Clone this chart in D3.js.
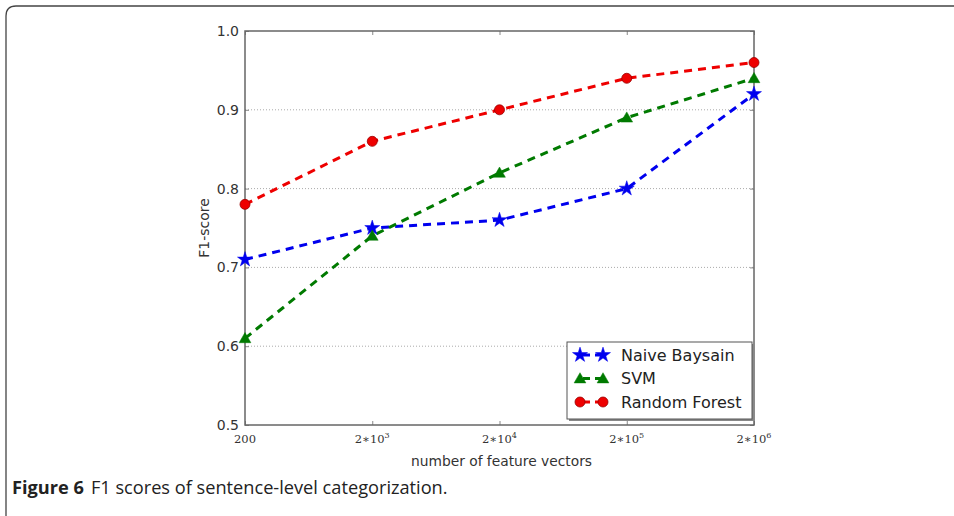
<!DOCTYPE html>
<html>
<head>
<meta charset="utf-8">
<script src="https://cdn.jsdelivr.net/npm/d3@7"></script>
<style>
  body { margin: 0; background: #fff; }
  svg { display: block; }
</style>
</head>
<body>
<script>
// data
const categories = ["200", "2e3", "2e4", "2e5", "2e6"];
const tickExp = [null, "3", "4", "5", "6"];
const naiveBayes = [0.71, 0.75, 0.76, 0.80, 0.92];
const svm = [0.61, 0.74, 0.82, 0.89, 0.94];
const randomForest = [0.78, 0.86, 0.90, 0.94, 0.96];
const yTicks = [0.5, 0.6, 0.7, 0.8, 0.9, 1.0];
const gridTicks = [0.6, 0.7, 0.8, 0.9];

const series = [
    { name: "Naive Baysain", values: naiveBayes, color: "#0000ee", marker: "star" },
    { name: "SVM", values: svm, color: "#007a00", marker: "triangle" },
    { name: "Random Forest", values: randomForest, color: "#ee0000", marker: "circle" }
];

const width = 954, height = 516;
const margin = { top: 31, right: 200, bottom: 91, left: 245 };

const svg = d3.select("body").append("svg")
    .attr("width", width)
    .attr("height", height);

// outer figure frame (open on right and bottom)
svg.append("path")
    .attr("d", "M6,516 L6,16 Q6,6 16,6 L954,6")
    .attr("fill", "none")
    .attr("stroke", "#444")
    .attr("stroke-width", 1.3);

const x = d3.scalePoint()
    .domain(categories)
    .range([margin.left, width - margin.right]);

const y = d3.scaleLinear()
    .domain([0.5, 1.0])
    .range([height - margin.bottom, margin.top]);

// grid lines
svg.append("g")
    .selectAll("line")
    .data(gridTicks)
    .enter().append("line")
    .attr("x1", margin.left)
    .attr("x2", width - margin.right)
    .attr("y1", d => y(d))
    .attr("y2", d => y(d))
    .attr("stroke", "#aaa")
    .attr("stroke-width", 1)
    .attr("stroke-dasharray", "1,2");

// y axis labels + inner ticks
const yAxis = d3.axisLeft(y)
    .tickValues(yTicks)
    .tickFormat(d3.format(".1f"))
    .tickSize(-4)
    .tickPadding(6);

svg.append("g")
    .attr("transform", `translate(${margin.left},0)`)
    .call(yAxis)
    .call(g => g.select(".domain").remove())
    .call(g => g.selectAll("line").attr("stroke", "#888"))
    .call(g => g.selectAll("text")
        .attr("font-family", "DejaVu Sans, sans-serif")
        .attr("font-size", 14)
        .attr("fill", "#333"));

// right-side ticks
svg.append("g")
    .attr("transform", `translate(${width - margin.right},0)`)
    .call(d3.axisRight(y).tickValues(yTicks).tickSize(-4).tickFormat(""))
    .call(g => g.select(".domain").remove())
    .call(g => g.selectAll("line").attr("stroke", "#888"));

// x axis with inner ticks
const xAxis = d3.axisBottom(x).tickSize(-4).tickFormat("");
svg.append("g")
    .attr("transform", `translate(0,${height - margin.bottom})`)
    .call(xAxis)
    .call(g => g.select(".domain").remove())
    .call(g => g.selectAll("line").attr("stroke", "#888"));

svg.append("g")
    .attr("transform", `translate(0,${margin.top})`)
    .call(d3.axisTop(x).tickSize(-4).tickFormat(""))
    .call(g => g.select(".domain").remove())
    .call(g => g.selectAll("line").attr("stroke", "#888"));

// x tick labels: 200, 2*10^n
const xLabels = svg.append("g")
    .attr("font-family", "DejaVu Serif, serif")
    .attr("font-size", 11.5)
    .attr("fill", "#333");

categories.forEach((c, i) => {
    const t = xLabels.append("text")
        .attr("x", x(c))
        .attr("y", height - margin.bottom + 18)
        .attr("text-anchor", "middle");
    if (tickExp[i] == null) {
        t.text(c);
    } else {
        t.append("tspan").text("2\u221710");
        t.append("tspan").attr("dy", -5).attr("font-size", 8).text(tickExp[i]);
    }
});

// plot frame
svg.append("rect")
    .attr("x", margin.left)
    .attr("y", margin.top)
    .attr("width", width - margin.right - margin.left)
    .attr("height", height - margin.bottom - margin.top)
    .attr("fill", "none")
    .attr("stroke", "#666")
    .attr("stroke-width", 1.5);

// axis titles
svg.append("text")
    .attr("x", (margin.left + width - margin.right) / 2 + 2)
    .attr("y", 466)
    .attr("text-anchor", "middle")
    .attr("font-family", "DejaVu Sans, sans-serif")
    .attr("font-size", 13.8)
    .attr("fill", "#333")
    .text("number of feature vectors");

svg.append("text")
    .attr("transform", `translate(209,${(margin.top + height - margin.bottom) / 2}) rotate(-90)`)
    .attr("text-anchor", "middle")
    .attr("font-family", "DejaVu Sans, sans-serif")
    .attr("font-size", 14)
    .attr("fill", "#333")
    .text("F1-score");

// marker helper
function drawMarker(g, kind, cx, cy, color) {
    if (kind === "circle") {
        g.append("circle").attr("cx", cx).attr("cy", cy).attr("r", 5)
            .attr("fill", color).attr("stroke", "#990000").attr("stroke-width", 0.8);
    } else {
        const sym = kind === "star" ? d3.symbolStar : d3.symbolTriangle;
        const size = kind === "star" ? 70 : 60;
        g.append("path")
            .attr("d", d3.symbol().type(sym).size(size)())
            .attr("transform", `translate(${cx},${cy + (kind === "triangle" ? 1 : 0)})`)
            .attr("fill", color)
            .attr("stroke", color)
            .attr("stroke-width", 0.5);
    }
}

const line = d3.line()
    .x((d, i) => x(categories[i]))
    .y(d => y(d));

const plot = svg.append("g");
series.forEach(s => {
    plot.append("path")
        .datum(s.values)
        .attr("d", line)
        .attr("fill", "none")
        .attr("stroke", s.color)
        .attr("stroke-width", 3)
        .attr("stroke-dasharray", "8,6");
});
series.forEach(s => {
    s.values.forEach((v, i) => drawMarker(plot, s.marker, x(categories[i]), y(v), s.color));
});

// legend
const legend = svg.append("g").attr("transform", "translate(567,342)");
legend.append("rect")
    .attr("x", 2).attr("y", 2)
    .attr("width", 185).attr("height", 77)
    .attr("fill", "#888");
legend.append("rect")
    .attr("width", 185).attr("height", 77)
    .attr("fill", "#fff")
    .attr("stroke", "#555")
    .attr("stroke-width", 1);

series.forEach((s, i) => {
    const ly = 13 + i * 23.5;
    legend.append("line")
        .attr("x1", 13).attr("x2", 36)
        .attr("y1", ly).attr("y2", ly)
        .attr("stroke", s.color)
        .attr("stroke-width", 3)
        .attr("stroke-dasharray", "7,5")
        .attr("stroke-dashoffset", -3);
    drawMarker(legend, s.marker, 13, ly, s.color);
    drawMarker(legend, s.marker, 36, ly, s.color);
    legend.append("text")
        .attr("x", 54)
        .attr("y", ly + 5.5)
        .attr("font-family", "DejaVu Sans, sans-serif")
        .attr("font-size", 16)
        .attr("fill", "#222")
        .text(s.name);
});

// caption
const cap = svg.append("text")
    .attr("x", 12)
    .attr("y", 494)
    .attr("font-family", "Open Sans, Noto Sans, sans-serif")
    .attr("font-size", 18.2)
    .attr("fill", "#222");
cap.append("tspan").attr("font-weight", "bold").text("Figure 6");
cap.append("tspan").attr("dx", 7).text("F1 scores of sentence-level categorization.");
</script>
</body>
</html>
